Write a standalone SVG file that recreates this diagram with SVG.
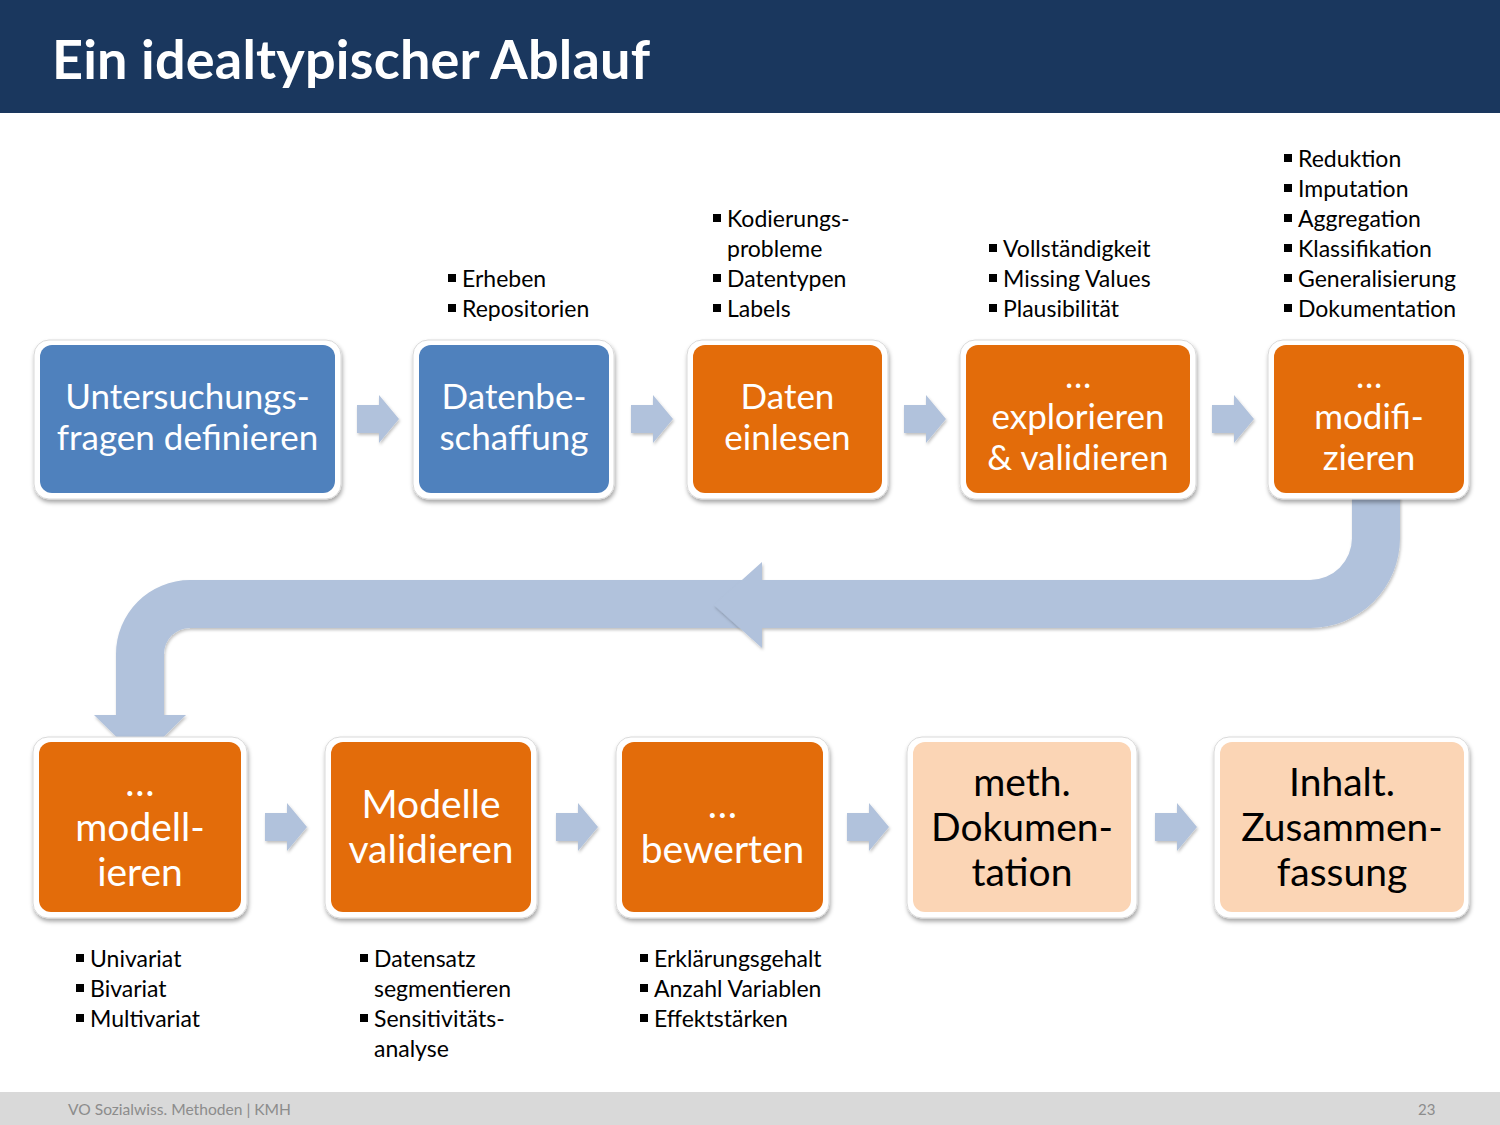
<svg xmlns="http://www.w3.org/2000/svg" width="1500" height="1125" viewBox="0 0 1500 1125">
<defs>
<style>
.frame{fill:#fff;stroke:#d9d9d9;stroke-width:1;filter:url(#sh)}
.blue{fill:#4f81bd}
.orange{fill:#e36c0a}
.peach{fill:#fbd5b5}
.t1{font-family:Lato,"Open Sans",sans-serif;font-size:35px;fill:#fff;text-anchor:middle}
.t2{font-family:Lato,"Open Sans",sans-serif;font-size:39px;fill:#fff;text-anchor:middle}
.dark{fill:#000}
.bl{font-family:Lato,"Open Sans",sans-serif;font-size:23px;fill:#000}
.bul{fill:#000}
.arr{fill:#b1c2dc;filter:url(#sh2)}
</style>
<filter id="sh" x="-10%" y="-10%" width="120%" height="130%">
<feDropShadow dx="1" dy="3" stdDeviation="2" flood-color="#000" flood-opacity="0.35"/>
</filter>
<filter id="sh2" x="-10%" y="-10%" width="130%" height="130%">
<feDropShadow dx="1" dy="2" stdDeviation="1.5" flood-color="#000" flood-opacity="0.25"/>
</filter>
<path id="sa" d="M0,-14 H22 V-24 L42,0 L22,24 V14 H0 Z"/>
</defs>

<rect x="0" y="0" width="1500" height="1125" fill="#fff"/>
<rect x="0" y="0" width="1500" height="113" fill="#1a375e"/>
<text x="52" y="79" font-family="Lato,'Open Sans',sans-serif" font-weight="bold" font-size="54" fill="#fff" textLength="598" lengthAdjust="spacing">Ein idealtypischer Ablauf</text>

<g id="connectors">
<use href="#sa" class="arr" x="357" y="419"/>
<use href="#sa" class="arr" x="631" y="419"/>
<use href="#sa" class="arr" x="904" y="419"/>
<use href="#sa" class="arr" x="1212" y="419"/>
<use href="#sa" class="arr" x="265" y="827"/>
<use href="#sa" class="arr" x="556" y="827"/>
<use href="#sa" class="arr" x="847" y="827"/>
<use href="#sa" class="arr" x="1155" y="827"/>
<path class="arr" d="M745,580 H190 A74,74 0 0 0 116,654 V715 H94 L140,760 L186,715 H164 V654 A26,26 0 0 1 190,628 H745 Z"/>
<path class="arr" d="M1352,495 V538 A42,42 0 0 1 1310,580 H762 V562 L714,605 L762,648 V628 H1310 A90,90 0 0 0 1400,538 V495 Z"/>
</g>

<g id="n1">
<rect class="frame" x="34" y="340" width="307" height="159" rx="15"/>
<rect class="blue" x="40" y="345" width="295" height="148" rx="12"/>
<text class="t1" x="187.5" y="409">Untersuchungs-</text>
<text class="t1" x="187.5" y="450">fragen definieren</text>
</g>
<g id="n2">
<rect class="frame" x="413" y="340" width="201" height="159" rx="15"/>
<rect class="blue" x="419" y="345" width="190" height="148" rx="12"/>
<text class="t1" x="514" y="409">Datenbe-</text>
<text class="t1" x="514" y="450">schaffung</text>
</g>
<g id="n3">
<rect class="frame" x="687" y="340" width="201" height="159" rx="15"/>
<rect class="orange" x="693" y="345" width="189" height="148" rx="12"/>
<text class="t1" x="787.5" y="409">Daten</text>
<text class="t1" x="787.5" y="450">einlesen</text>
</g>
<g id="n4">
<rect class="frame" x="960" y="340" width="236" height="159" rx="15"/>
<rect class="orange" x="966" y="345" width="224" height="148" rx="12"/>
<text class="t1" x="1078" y="388">…</text>
<text class="t1" x="1078" y="429">explorieren</text>
<text class="t1" x="1078" y="470">&amp; validieren</text>
</g>
<g id="n5">
<rect class="frame" x="1268" y="340" width="201" height="159" rx="15"/>
<rect class="orange" x="1274" y="345" width="190" height="148" rx="12"/>
<text class="t1" x="1369" y="388">…</text>
<text class="t1" x="1369" y="429">modifi-</text>
<text class="t1" x="1369" y="470">zieren</text>
</g>

<g id="n6">
<rect class="frame" x="33" y="737" width="214" height="181" rx="15"/>
<rect class="orange" x="39" y="742" width="202" height="170" rx="12"/>
<text class="t2" x="140" y="796">…</text>
<text class="t2" x="140" y="841">modell-</text>
<text class="t2" x="140" y="886">ieren</text>
</g>
<g id="n7">
<rect class="frame" x="325" y="737" width="212" height="181" rx="15"/>
<rect class="orange" x="331" y="742" width="200" height="170" rx="12"/>
<text class="t2" x="431" y="818">Modelle</text>
<text class="t2" x="431" y="863">validieren</text>
</g>
<g id="n8">
<rect class="frame" x="616" y="737" width="213" height="181" rx="15"/>
<rect class="orange" x="622" y="742" width="201" height="170" rx="12"/>
<text class="t2" x="722.5" y="818">…</text>
<text class="t2" x="722.5" y="863">bewerten</text>
</g>
<g id="n9">
<rect class="frame" x="907" y="737" width="230" height="181" rx="15"/>
<rect class="peach" x="913" y="742" width="218" height="170" rx="12"/>
<text class="t2 dark" x="1022" y="796">meth.</text>
<text class="t2 dark" x="1022" y="841">Dokumen-</text>
<text class="t2 dark" x="1022" y="886">tation</text>
</g>
<g id="n10">
<rect class="frame" x="1214" y="737" width="255" height="181" rx="15"/>
<rect class="peach" x="1220" y="742" width="244" height="170" rx="12"/>
<text class="t2 dark" x="1342" y="796">Inhalt.</text>
<text class="t2 dark" x="1342" y="841">Zusammen-</text>
<text class="t2 dark" x="1342" y="886">fassung</text>
</g>

<g id="bullets-datenbeschaffung">
<rect class="bul" x="448" y="274" width="8" height="8"/>
<rect class="bul" x="448" y="304" width="8" height="8"/>
<text class="bl" x="462" y="287">Erheben</text>
<text class="bl" x="462" y="317">Repositorien</text>
</g>
<g id="bullets-einlesen">
<rect class="bul" x="713" y="214" width="8" height="8"/>
<rect class="bul" x="713" y="274" width="8" height="8"/>
<rect class="bul" x="713" y="304" width="8" height="8"/>
<text class="bl" x="727" y="227">Kodierungs-</text>
<text class="bl" x="727" y="257">probleme</text>
<text class="bl" x="727" y="287">Datentypen</text>
<text class="bl" x="727" y="317">Labels</text>
</g>
<g id="bullets-explorieren">
<rect class="bul" x="989" y="244" width="8" height="8"/>
<rect class="bul" x="989" y="274" width="8" height="8"/>
<rect class="bul" x="989" y="304" width="8" height="8"/>
<text class="bl" x="1003" y="257">Vollständigkeit</text>
<text class="bl" x="1003" y="287">Missing Values</text>
<text class="bl" x="1003" y="317">Plausibilität</text>
</g>
<g id="bullets-modifizieren">
<rect class="bul" x="1284" y="154" width="8" height="8"/>
<rect class="bul" x="1284" y="184" width="8" height="8"/>
<rect class="bul" x="1284" y="214" width="8" height="8"/>
<rect class="bul" x="1284" y="244" width="8" height="8"/>
<rect class="bul" x="1284" y="274" width="8" height="8"/>
<rect class="bul" x="1284" y="304" width="8" height="8"/>
<text class="bl" x="1298" y="167">Reduktion</text>
<text class="bl" x="1298" y="197">Imputation</text>
<text class="bl" x="1298" y="227">Aggregation</text>
<text class="bl" x="1298" y="257">Klassifikation</text>
<text class="bl" x="1298" y="287">Generalisierung</text>
<text class="bl" x="1298" y="317">Dokumentation</text>
</g>
<g id="bullets-modellieren">
<rect class="bul" x="76" y="954" width="8" height="8"/>
<rect class="bul" x="76" y="984" width="8" height="8"/>
<rect class="bul" x="76" y="1014" width="8" height="8"/>
<text class="bl" x="90" y="967">Univariat</text>
<text class="bl" x="90" y="997">Bivariat</text>
<text class="bl" x="90" y="1027">Multivariat</text>
</g>
<g id="bullets-validieren">
<rect class="bul" x="360" y="954" width="8" height="8"/>
<rect class="bul" x="360" y="1014" width="8" height="8"/>
<text class="bl" x="374" y="967">Datensatz</text>
<text class="bl" x="374" y="997">segmentieren</text>
<text class="bl" x="374" y="1027">Sensitivitäts-</text>
<text class="bl" x="374" y="1057">analyse</text>
</g>
<g id="bullets-bewerten">
<rect class="bul" x="640" y="954" width="8" height="8"/>
<rect class="bul" x="640" y="984" width="8" height="8"/>
<rect class="bul" x="640" y="1014" width="8" height="8"/>
<text class="bl" x="654" y="967">Erklärungsgehalt</text>
<text class="bl" x="654" y="997">Anzahl Variablen</text>
<text class="bl" x="654" y="1027">Effektstärken</text>
</g>

<rect x="0" y="1092" width="1500" height="33" fill="#d9d9d9"/>
<text x="68" y="1115" font-family="Lato,'Open Sans',sans-serif" font-size="15" fill="#8c8c8c" textLength="223" lengthAdjust="spacingAndGlyphs">VO Sozialwiss. Methoden | KMH</text>
<text x="1418" y="1115" font-family="Lato,'Open Sans',sans-serif" font-size="15" fill="#8c8c8c">23</text>
</svg>
